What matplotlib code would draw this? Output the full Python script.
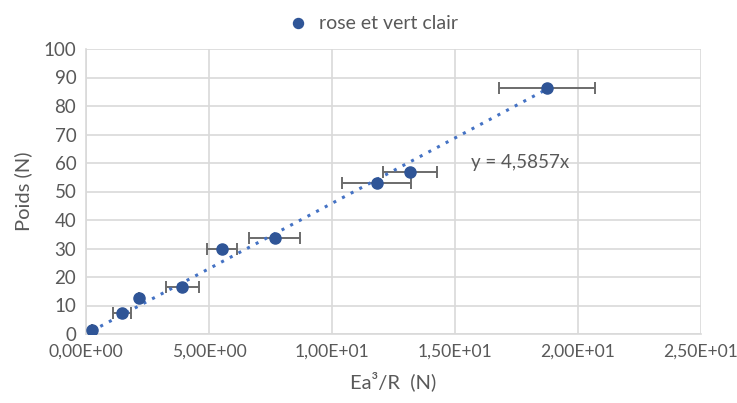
import matplotlib.pyplot as plt
import numpy as np
from matplotlib.ticker import FuncFormatter, MultipleLocator

plt.rcParams['font.family'] = ['Lato', 'DejaVu Sans']

# mesures : Ea^3/R (N) et poids (N), avec incertitude sur x
ea3_r = [0.23, 1.45, 2.16, 3.91, 5.53, 7.67, 11.82, 13.17, 18.75]
poids = [1.4, 7.5, 12.7, 16.6, 29.7, 33.6, 52.9, 56.9, 86.2]
err_x = [0.0, 0.37, 0.0, 0.67, 0.6, 1.03, 1.41, 1.1, 1.96]
pente = 4.5857
serie = 'rose et vert clair'

grey_txt = '#595959'

fig = plt.figure(figsize=(7.37, 4.03), dpi=100)
ax = fig.add_axes([86 / 737, 1 - 334 / 403, (701 - 86) / 737, (334 - 49) / 403])

# droite de tendance passant par l'origine
xt = np.array([min(ea3_r), max(ea3_r)])
ax.plot(xt, pente * xt, linestyle=(0, (1, 2.2)), color='#4472C4', lw=2.2, zorder=3)

ax.errorbar(ea3_r, poids, xerr=err_x, fmt='none', ecolor='#6b6b6b',
            elinewidth=1.4, capsize=4, capthick=1.4, zorder=2)
ax.plot(ea3_r, poids, 'o', color='#2F5597', ms=8, zorder=4, label=serie)

eq = 'y = ' + f'{pente:.4f}'.replace('.', ',') + 'x'
fig.text(471 / 737, 1 - 163 / 403, eq, fontsize=13.5, color=grey_txt, va='center')

ax.set_xlim(0, 25)
ax.set_ylim(0, 100)
ax.xaxis.set_major_locator(MultipleLocator(5))
ax.yaxis.set_major_locator(MultipleLocator(10))


def sci_fr(v, pos):
    s = f'{v:.2E}'
    mant, exp = s.split('E')
    sign = exp[0]
    return f"{mant.replace('.', ',')}E{sign}{abs(int(exp)):02d}"


ax.xaxis.set_major_formatter(FuncFormatter(sci_fr))
ax.grid(True, color='#D9D9D9', lw=1.2)
ax.set_axisbelow(True)
for side in ['top', 'right']:
    ax.spines[side].set_visible(False)
for side in ['left', 'bottom']:
    ax.spines[side].set_color('#D9D9D9')
    ax.spines[side].set_linewidth(1.2)
ax.tick_params(length=0, colors=grey_txt, pad=7)
ax.tick_params(axis='x', labelsize=12.6)
ax.tick_params(axis='y', labelsize=13.5)

ax.set_xlabel('Ea³/R  (N)', fontsize=14.5, color=grey_txt, labelpad=8)
ax.set_ylabel('Poids (N)', fontsize=14.5, color=grey_txt, labelpad=8)

fig.legend(loc='upper center', bbox_to_anchor=(0.5, 1.005), frameon=False,
           fontsize=14, handletextpad=0.1, markerscale=0.9,
           labelcolor=grey_txt)

fig.savefig('out.png', dpi=100)
